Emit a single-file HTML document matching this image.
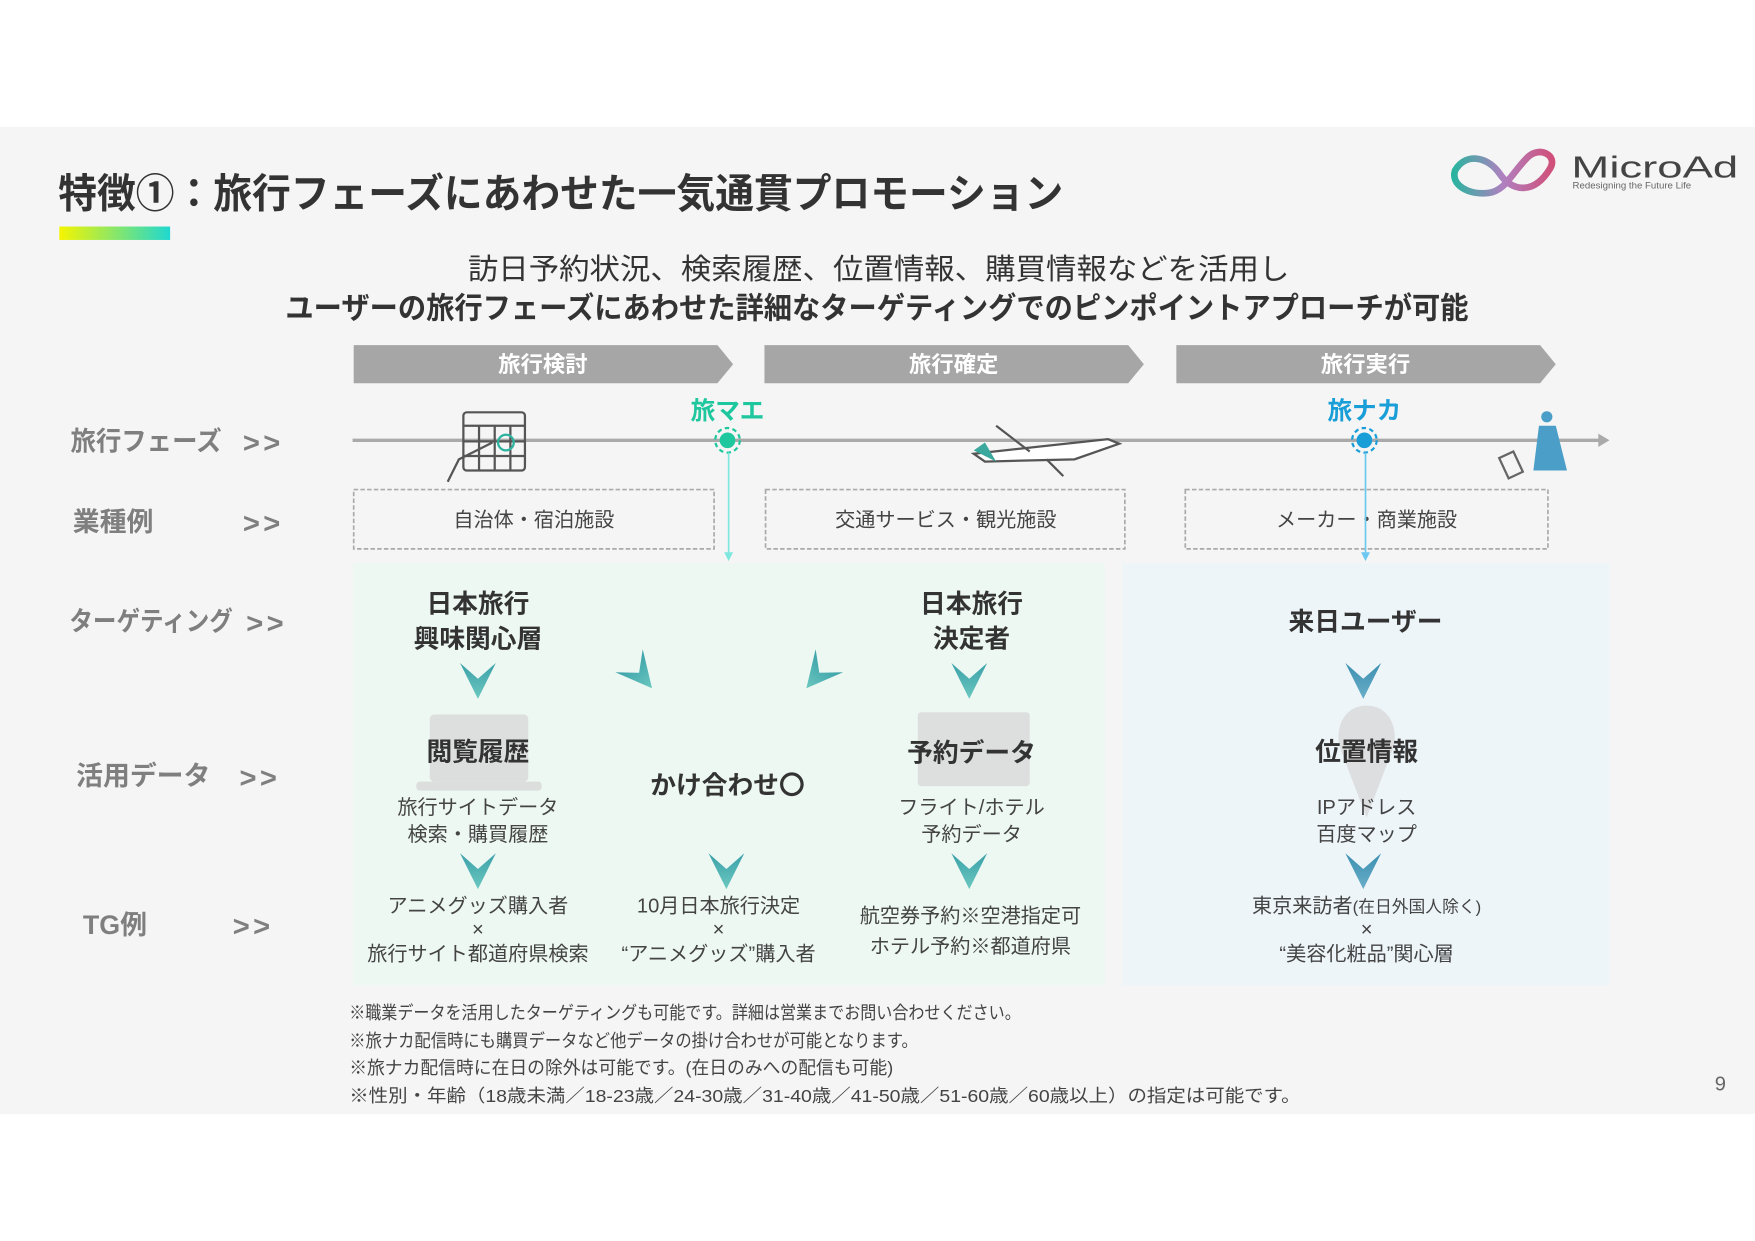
<!DOCTYPE html>
<html><head><meta charset="utf-8"><style>
html,body{margin:0;padding:0;background:#fff}
svg{display:block}
text{font-family:"Liberation Sans","Noto Sans CJK JP",sans-serif}
</style></head><body>
<svg width="1755" height="1241" viewBox="0 0 1568 1108" xmlns="http://www.w3.org/2000/svg">
<defs>
<linearGradient id="gb" x1="0" x2="1"><stop offset="0" stop-color="#f5f500"/><stop offset="1" stop-color="#1fd8d0"/></linearGradient>
<linearGradient id="ar" x1="0" y1="0" x2="0" y2="1"><stop offset="0" stop-color="#3aa0a8"/><stop offset="1" stop-color="#6cc8c0"/></linearGradient>
<linearGradient id="ab" x1="0" y1="0" x2="0" y2="1"><stop offset="0" stop-color="#3b8fb0"/><stop offset="1" stop-color="#6aaec8"/></linearGradient>
<linearGradient id="lg" x1="0" x2="1"><stop offset="0" stop-color="#2cb3a0"/><stop offset="0.5" stop-color="#b080c0"/><stop offset="1" stop-color="#d0507a"/></linearGradient>
<g id="v"><polygon points="-16,0 0,14 16,0 0,32" /></g>
</defs>
<rect x="0" y="113" width="1568" height="882" fill="#f5f5f5"/>
<text x="52" y="185" font-size="36" font-weight="bold" fill="#333" textLength="898" lengthAdjust="spacingAndGlyphs">特徴①：旅行フェーズにあわせた一気通貫プロモーション</text>
<rect x="53" y="202" width="99" height="12" fill="url(#gb)"/>
<!-- logo -->
<path d="M1300,152 C1310,135 1330,140 1340,155 C1350,170 1370,175 1385,150 C1392,138 1375,130 1365,140 C1350,155 1345,170 1330,172 C1312,174 1296,165 1300,152 Z" fill="none" stroke="url(#lg)" stroke-width="6"/>
<text x="1404" y="158" font-size="27" fill="#444" textLength="149" lengthAdjust="spacingAndGlyphs">MicroAd</text>
<text x="1405" y="168" font-size="8" fill="#666" textLength="106" lengthAdjust="spacingAndGlyphs">Redesigning the Future Life</text>
<text x="418" y="249" font-size="26" fill="#333" textLength="734" lengthAdjust="spacingAndGlyphs">訪日予約状況、検索履歴、位置情報、購買情報などを活用し</text>
<text x="255" y="284" font-size="27" font-weight="bold" fill="#333" textLength="1057" lengthAdjust="spacingAndGlyphs">ユーザーの旅行フェーズにあわせた詳細なターゲティングでのピンポイントアプローチが可能</text>
<!-- chevrons -->
<polygon points="316,308 641,308 655,325 641,342 316,342" fill="#a6a6a6"/>
<polygon points="683,308 1008,308 1022,325 1008,342 683,342" fill="#a6a6a6"/>
<polygon points="1051,308 1376,308 1390,325 1376,342 1051,342" fill="#a6a6a6"/>
<g font-size="20" font-weight="bold" fill="#fff" text-anchor="middle">
<text x="485" y="332">旅行検討</text><text x="852" y="332">旅行確定</text><text x="1220" y="332">旅行実行</text></g>
<!-- row labels -->
<g font-size="24" font-weight="bold" fill="#7f7f7f">
<text x="63" y="402" textLength="135" lengthAdjust="spacingAndGlyphs">旅行フェーズ</text>
<text x="65" y="474">業種例</text>
<text x="62" y="563" textLength="146" lengthAdjust="spacingAndGlyphs">ターゲティング</text>
<text x="68" y="701">活用データ</text>
<text x="74" y="834">TG例</text>
</g>
<g font-size="26" font-weight="bold" fill="#7f7f7f" letter-spacing="3">
<text x="217" y="404">&gt;&gt;</text><text x="217" y="476">&gt;&gt;</text><text x="220" y="565">&gt;&gt;</text>
<text x="214" y="703">&gt;&gt;</text><text x="208" y="836">&gt;&gt;</text></g>
<!-- timeline -->
<line x1="315" y1="393" x2="1430" y2="393" stroke="#aaa" stroke-width="3"/>
<polygon points="1428,387 1438,393 1428,399" fill="#aaa"/>
<!-- icons -->
<g stroke="#555" fill="none" stroke-width="2">
<rect x="414" y="368" width="55" height="52" rx="3"/><line x1="414" y1="380" x2="469" y2="380"/>
<line x1="428" y1="380" x2="428" y2="420"/><line x1="442" y1="380" x2="442" y2="420"/><line x1="456" y1="380" x2="456" y2="420"/>
<line x1="414" y1="394" x2="469" y2="394"/><line x1="414" y1="407" x2="469" y2="407"/>
<path d="M400,430 L410,410 L440,395" /><circle cx="452" cy="395" r="7" stroke="#2cb3a0"/>
<path d="M870,405 L990,392 L1000,396 L960,410 L880,412 Z" fill="#fff"/>
<path d="M890,380 L920,403 M935,410 L950,425"/>
</g>
<path d="M870,402 L890,412 L880,395 Z" fill="#3aa89c"/>
<g fill="#4a9ec8"><circle cx="1382" cy="372" r="5"/><path d="M1375,380 L1390,380 L1400,420 L1370,420 Z"/></g>
<rect x="1343" y="405" width="14" height="20" fill="none" stroke="#666" stroke-width="2" transform="rotate(-25 1350 415)"/>
<!-- markers -->
<text x="650" y="374" font-size="22" font-weight="bold" fill="#1fc79e" text-anchor="middle">旅マエ</text>
<circle cx="650" cy="393" r="11" fill="none" stroke="#1fc79e" stroke-width="2" stroke-dasharray="4 3"/><circle cx="650" cy="393" r="7" fill="#1fc79e"/>
<text x="1219" y="374" font-size="22" font-weight="bold" fill="#1a9ed8" text-anchor="middle">旅ナカ</text>
<circle cx="1219" cy="393" r="11" fill="none" stroke="#1a9ed8" stroke-width="2" stroke-dasharray="4 3"/><circle cx="1219" cy="393" r="7" fill="#1a9ed8"/>
<!-- dashed boxes -->
<g fill="none" stroke="#aaa" stroke-width="1.5" stroke-dasharray="4 2">
<rect x="316" y="437" width="322" height="53"/><rect x="684" y="437" width="321" height="53"/><rect x="1059" y="437" width="324" height="53"/></g>
<g font-size="18" fill="#444" text-anchor="middle">
<text x="477" y="470">自治体・宿泊施設</text><text x="845" y="470">交通サービス・観光施設</text><text x="1221" y="470">メーカー・商業施設</text></g>
<!-- areas -->
<rect x="315" y="503" width="672" height="377" fill="#edf8f3"/>
<rect x="1003" y="503" width="435" height="377" fill="#edf5f9"/>
<line x1="651" y1="404" x2="651" y2="495" stroke="#7ee8df" stroke-width="1.5"/><polygon points="647,493 655,493 651,501" fill="#7ee8df"/>
<line x1="1220" y1="404" x2="1220" y2="495" stroke="#6cc8f0" stroke-width="1.5"/><polygon points="1216,493 1224,493 1220,501" fill="#6cc8f0"/>
<!-- faint icons -->
<g fill="#d8d8d8" opacity="0.8">
<rect x="384" y="638" width="88" height="60" rx="4"/><rect x="372" y="698" width="112" height="8" rx="3"/>
<rect x="820" y="636" width="100" height="66" rx="3"/>
<path d="M1221,630 C1198,630 1192,655 1198,670 L1221,730 L1244,670 C1250,655 1244,630 1221,630 Z"/>
</g>
<!-- content text -->
<g font-size="23" font-weight="bold" fill="#333" text-anchor="middle">
<text x="427" y="547">日本旅行</text><text x="427" y="578">興味関心層</text>
<text x="868" y="547">日本旅行</text><text x="868" y="578">決定者</text>
<text x="1220" y="563">来日ユーザー</text>
<text x="427" y="679">閲覧履歴</text><text x="868" y="680">予約データ</text><text x="1221" y="679">位置情報</text>
<text x="650" y="709">かけ合わせ〇</text>
</g>
<g font-size="18" fill="#444" text-anchor="middle">
<text x="427" y="727">旅行サイトデータ</text><text x="427" y="751">検索・購買履歴</text>
<text x="868" y="727">フライト/ホテル</text><text x="868" y="751">予約データ</text>
<text x="1221" y="727">IPアドレス</text><text x="1221" y="751">百度マップ</text>
<text x="427" y="815">アニメグッズ購入者</text><text x="427" y="836">×</text><text x="427" y="858">旅行サイト都道府県検索</text>
<text x="642" y="815">10月日本旅行決定</text><text x="642" y="836">×</text><text x="642" y="858">“アニメグッズ”購入者</text>
<text x="867" y="824">航空券予約※空港指定可</text><text x="867" y="851">ホテル予約※都道府県</text>
<text x="1221" y="815">東京来訪者<tspan font-size="15">(在日外国人除く)</tspan></text><text x="1221" y="836">×</text><text x="1221" y="858">“美容化粧品”関心層</text>
</g>
<!-- arrows -->
<g fill="url(#ar)">
<use href="#v" x="427" y="592"/><use href="#v" x="866" y="592"/>
<use href="#v" x="427" y="762"/><use href="#v" x="649" y="762"/><use href="#v" x="866" y="762"/>
<use href="#v" transform="translate(562,590) rotate(-40)"/>
<use href="#v" transform="translate(741,590) rotate(40)"/>
</g>
<g fill="url(#ab)"><use href="#v" x="1218" y="592"/><use href="#v" x="1218" y="762"/></g>
<!-- footnotes -->
<g font-size="16" fill="#444">
<text x="312" y="910" textLength="600" lengthAdjust="spacingAndGlyphs">※職業データを活用したターゲティングも可能です。詳細は営業までお問い合わせください。</text>
<text x="312" y="935" textLength="508" lengthAdjust="spacingAndGlyphs">※旅ナカ配信時にも購買データなど他データの掛け合わせが可能となります。</text>
<text x="312" y="959" textLength="486" lengthAdjust="spacingAndGlyphs">※旅ナカ配信時に在日の除外は可能です。(在日のみへの配信も可能)</text>
<text x="312" y="984" textLength="850" lengthAdjust="spacingAndGlyphs">※性別・年齢（18歳未満／18-23歳／24-30歳／31-40歳／41-50歳／51-60歳／60歳以上）の指定は可能です。</text>
</g>
<text x="1537" y="974" font-size="18" fill="#666" text-anchor="middle">9</text>
</svg>
</body></html>
